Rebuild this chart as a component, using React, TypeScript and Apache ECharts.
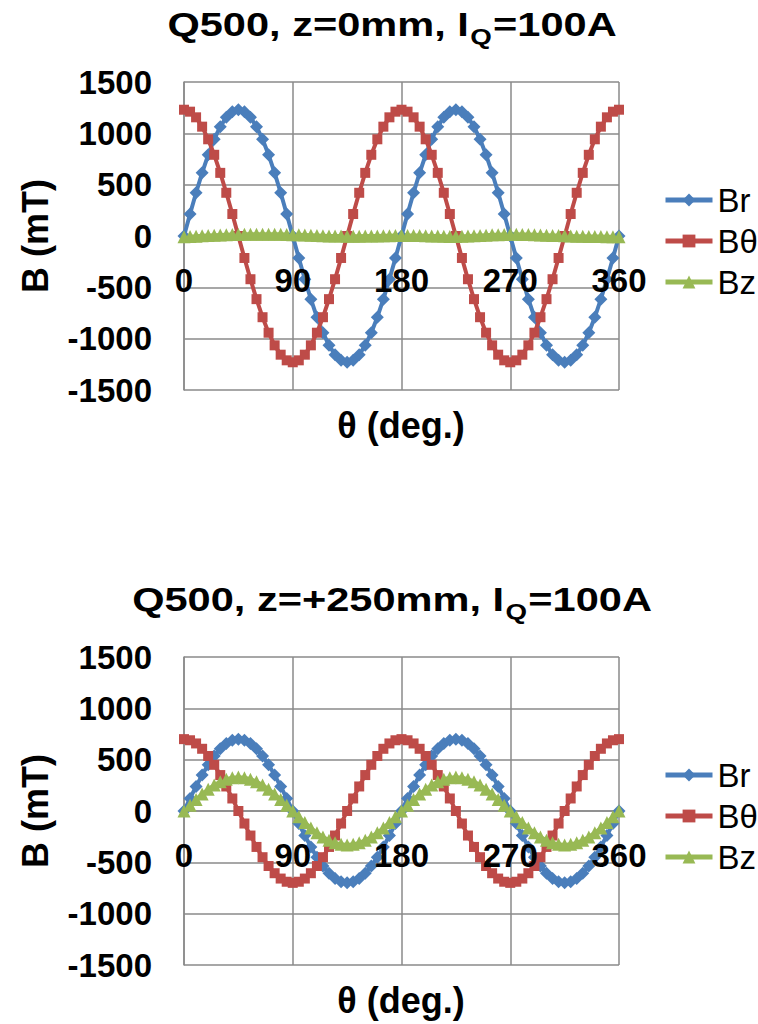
import React, { useEffect, useRef } from 'react';
import * as echarts from 'echarts';

// θ (deg.)
const theta = [0,5,10,15,20,25,30,35,40,45,50,55,60,65,70,75,80,85,90,95,100,105,110,115,120,125,130,135,140,145,150,155,160,165,170,175,180,185,190,195,200,205,210,215,220,225,230,235,240,245,250,255,260,265,270,275,280,285,290,295,300,305,310,315,320,325,330,335,340,345,350,355,360];

// Panel 1: z = 0 mm
const topBr = [0,214,421,615,791,942,1065,1156,1211,1230,1211,1156,1065,942,791,615,421,214,0,-214,-421,-615,-791,-942,-1065,-1156,-1211,-1230,-1211,-1156,-1065,-942,-791,-615,-421,-214,0,
  214,421,615,791,942,1065,1156,1211,1230,1211,1156,1065,942,791,615,421,214,0,-214,-421,-615,-791,-942,-1065,-1156,-1211,-1230,-1211,-1156,-1065,-942,-791,-615,-421,-214,0];
const topBt = [1230,1211,1156,1065,942,791,615,421,214,0,-214,-421,-615,-791,-942,-1065,-1156,-1211,-1230,-1211,-1156,-1065,-942,-791,-615,-421,-214,0,214,421,615,791,942,1065,1156,1211,1230,
  1211,1156,1065,942,791,615,421,214,0,-214,-421,-615,-791,-942,-1065,-1156,-1211,-1230,-1211,-1156,-1065,-942,-791,-615,-421,-214,0,214,421,615,791,942,1065,1156,1211,1230];
const topBz = [-8,-5,-2,2,5,8,10,12,14,15,16,17,18,18,18,17,16,15,13,11,9,7,5,3,1,0,-1,-2,-2,-2,-1,0,1,2,3,4,5,6,6,5,3,1,-1,-3,-4,-4,-3,-1,2,5,8,11,13,15,16,16,15,14,12,10,8,6,4,2,0,-2,-3,-4,-5,-6,-7,-8,-8];

// Panel 2: z = +250 mm
const botBr = [0,122,239,350,450,536,606,658,689,700,689,658,606,536,450,350,239,122,0,-122,-239,-350,-450,-536,-606,-658,-689,-700,-689,-658,-606,-536,-450,-350,-239,-122,0,
  122,239,350,450,536,606,658,689,700,689,658,606,536,450,350,239,122,0,-122,-239,-350,-450,-536,-606,-658,-689,-700,-689,-658,-606,-536,-450,-350,-239,-122,0];
const botBt = [700,689,658,606,536,450,350,239,122,0,-122,-239,-350,-450,-536,-606,-658,-689,-700,-689,-658,-606,-536,-450,-350,-239,-122,0,122,239,350,450,536,606,658,689,700,
  689,658,606,536,450,350,239,122,0,-122,-239,-350,-450,-536,-606,-658,-689,-700,-689,-658,-606,-536,-450,-350,-239,-122,0,122,239,350,450,536,606,658,689,700];
const botBz = [0,57,113,165,212,253,286,310,325,330,325,310,286,253,212,165,113,57,0,-57,-113,-165,-212,-253,-286,-310,-325,-330,-325,-310,-286,-253,-212,-165,-113,-57,0,
  57,113,165,212,253,286,310,325,330,325,310,286,253,212,165,113,57,0,-57,-113,-165,-212,-253,-286,-310,-325,-330,-325,-310,-286,-253,-212,-165,-113,-57,0];

const xTicks = [0, 90, 180, 270, 360];
const seriesNames = ['Br', 'Bθ', 'Bz'];
const titles = [
  ['Q500, z=0mm, I', 'Q', '=100A'],
  ['Q500, z=+250mm, I', 'Q', '=100A'],
];
const yName = 'B (mT)';
const xName = 'θ (deg.)';

const FONT = '"Liberation Sans", Arial, Helvetica, sans-serif';
const GRID = '#8a8a8a';
const COLORS = ['#4a7ebb', '#be4b48', '#98b954'];
const SYMBOLS = ['diamond', 'rect', 'triangle'];
const SYMSIZE = [13, 10, 13];

export default function App() {
  const ref = useRef<HTMLDivElement>(null);
  useEffect(() => {
    if (!ref.current) return;
    const chart = echarts.init(ref.current, undefined, { renderer: 'svg' });
    const OFF = 575;
    const panels = [
      [topBr, topBt, topBz],
      [botBr, botBt, botBz],
    ];
    const grids: any[] = [];
    const xAxes: any[] = [];
    const yAxes: any[] = [];
    const legends: any[] = [];
    const series: any[] = [];
    const graphic: any[] = [];
    panels.forEach((data, p) => {
      const dy = p * OFF;
      grids.push({ left: 184, width: 435, top: 82 + dy, height: 308 });
      yAxes.push({
        type: 'value', gridIndex: p, min: -1500, max: 1500, interval: 500,
        axisLine: { show: true, lineStyle: { color: GRID, width: 1.5 } },
        axisTick: { show: false },
        splitLine: { show: true, lineStyle: { color: GRID, width: 1.5 } },
        axisLabel: {
          margin: 32, fontSize: 33, fontWeight: 'bold', color: '#000', fontFamily: FONT,
          formatter: (v: number) => String(v),
        },
      });
      legends.push({
        orient: 'vertical', left: 658, top: 178 + dy, padding: 5,
        itemWidth: 47, itemHeight: 16, itemGap: 7,
        data: seriesNames,
        lineStyle: { width: 5 },
        textStyle: { fontSize: 33, color: '#000', fontFamily: FONT, lineHeight: 34 },
        selectedMode: false,
      });
      data.forEach((vals, s) => {
        series.push({
          type: 'line', name: seriesNames[s], xAxisIndex: p * 2, yAxisIndex: p,
          data: theta.map((t, i) => [t, vals[i]]),
          symbol: SYMBOLS[s], symbolSize: SYMSIZE[s], showAllSymbol: true,
          color: COLORS[s],
          lineStyle: { width: 4, color: COLORS[s] },
          itemStyle: { color: COLORS[s] },
        });
      });
      graphic.push({
        type: 'text', x: 392, y: 8 + dy, scaleX: 1.26,
        style: {
          text: `{a|${titles[p][0]}}{b|${titles[p][1]}}{a|${titles[p][2]}}`,
          align: 'center', verticalAlign: 'top',
          rich: {
            a: { fontSize: 33, fontWeight: 'bold', fontFamily: FONT, fill: '#000', verticalAlign: 'top', lineHeight: 36 },
            b: { fontSize: 22, fontWeight: 'bold', fontFamily: FONT, fill: '#000', verticalAlign: 'top', padding: [17, 1, 0, 1] },
          },
        },
      });
      graphic.push({
        type: 'text', x: 35, y: 236 + dy, rotation: Math.PI / 2,
        style: { text: yName, fontSize: 36, fontWeight: 'bold', fontFamily: FONT, fill: '#000', align: 'center', verticalAlign: 'middle' },
      });
      graphic.push({
        type: 'text', x: 401, y: 425 + dy,
        style: { text: xName, fontSize: 36, fontWeight: 'bold', fontFamily: FONT, fill: '#000', align: 'center', verticalAlign: 'middle' },
      });
    });
    // x axes: one for lines/grid (under the curves), one for labels (above the curves)
    panels.forEach((_, p) => {
      xAxes.push({
        type: 'value', gridIndex: p, position: 'bottom', min: 0, max: 360, interval: 90,
        offset: -154,
        axisLine: { show: true, onZero: false, lineStyle: { color: GRID, width: 1.5 } },
        axisTick: { show: false },
        splitLine: { show: true, lineStyle: { color: GRID, width: 1.5 } },
        axisLabel: { show: false },
      });
      xAxes.push({
        type: 'value', gridIndex: p, position: 'bottom', min: 0, max: 360, interval: 90,
        offset: -154, z: 20,
        axisLine: { show: false, onZero: false },
        axisTick: { show: false },
        splitLine: { show: false },
        axisLabel: {
          margin: 28, fontSize: 33, fontWeight: 'bold', color: '#000', fontFamily: FONT,
          formatter: (v: number) => (xTicks.includes(v) ? String(v) : ''),
        },
      });
    });
    chart.setOption({
      animation: false,
      backgroundColor: '#fff',
      grid: grids,
      xAxis: xAxes,
      yAxis: yAxes,
      legend: legends,
      series,
      graphic,
    });
    return () => chart.dispose();
  }, []);
  return <div ref={ref} style={{ position: 'absolute', left: 0, top: 0, width: 758, height: 1024 }} />;
}
